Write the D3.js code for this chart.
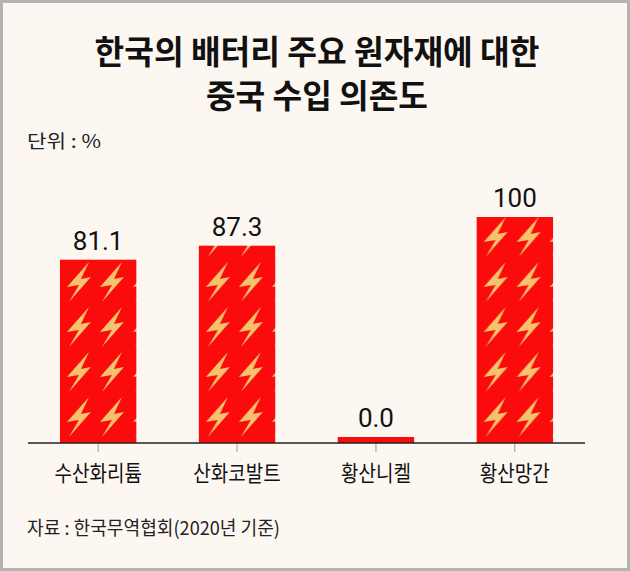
<!DOCTYPE html>
<html><head><meta charset="utf-8">
<script src="https://cdn.jsdelivr.net/npm/d3@7/dist/d3.min.js"></script>
<style>html,body{margin:0;padding:0;background:#fdf7f2;}svg{display:block;}</style>
</head><body>
<svg id="chart" width="630" height="571"></svg>
<script>
const titleLines = ["한국의 배터리 주요 원자재에 대한", "중국 수입 의존도"];
const unitLabel = "단위 : %";
const sourceLabel = "자료 : 한국무역협회(2020년 기준)";
const categories = ["수산화리튬", "산화코발트", "황산니켈", "황산망간"];
const values = [81.1, 87.3, 0.0, 100];
const valueLabels = ["81.1", "87.3", "0.0", "100"];

const W = 630, H = 571;
const svg = d3.select("#chart");
const BG = "#fdf7f2", RED = "#fb0b0b", BOLT = "#f6c36c";

svg.append("rect").attr("x",1.5).attr("y",1.5).attr("width",W-3).attr("height",H-3)
  .attr("fill",BG).attr("stroke","#b3b3b3").attr("stroke-width",3);

// title
const tl = [{t:titleLines[0], y:64, len:445}, {t:titleLines[1], y:108, len:222}];
svg.selectAll("text.title").data(tl).join("text").attr("class","title")
  .attr("x",317).attr("y",d=>d.y).attr("text-anchor","middle")
  .attr("font-family","'Noto Sans CJK KR', sans-serif").attr("font-weight",700)
  .attr("font-size",33).attr("fill","#111")
  .attr("textLength",d=>d.len).attr("lengthAdjust","spacingAndGlyphs")
  .text(d=>d.t);

svg.append("text").attr("x",27).attr("y",148)
  .attr("font-family","'Noto Sans CJK KR', sans-serif").attr("font-size",18).attr("fill","#222")
  .attr("textLength",74).attr("lengthAdjust","spacingAndGlyphs").text(unitLabel);

svg.append("text").attr("x",27).attr("y",535)
  .attr("font-family","'Noto Sans CJK KR', sans-serif").attr("font-size",19).attr("fill","#222")
  .attr("textLength",253).attr("lengthAdjust","spacingAndGlyphs").text(sourceLabel);

// scales
const x = d3.scaleBand().domain(categories).range([28, 585]).paddingInner(0.45).paddingOuter(0.23);
const y = d3.scaleLinear().domain([0, 100]).range([443, 217]);

// patterns
const defs = svg.append("defs");
const tileW = 33, tileH = 45;
const boltPts = [[27,2],[5,27],[17,25],[7,42],[29,17],[19,19]];
categories.forEach((c,i) => {
  const p = defs.append("pattern").attr("id","pat"+i).attr("patternUnits","userSpaceOnUse")
    .attr("width",tileW).attr("height",tileH)
    .attr("x", x(c) + 2).attr("y", 215);
  p.append("rect").attr("width",tileW).attr("height",tileH).attr("fill",RED);
  p.append("polygon").attr("points", boltPts.map(q=>q.join(",")).join(" "))
    .attr("fill",BOLT);
});

const minH = 6;
const data = categories.map((c,i)=>({c, v:values[i], lab:valueLabels[i], i}));
const barTop = d => Math.min(y(d.v), y(0) - minH);

svg.append("g").selectAll("rect").data(data).join("rect")
  .attr("x", d=>x(d.c)).attr("width", x.bandwidth())
  .attr("y", barTop).attr("height", d => y(0) - barTop(d))
  .attr("fill", d=>`url(#pat${d.i})`);

svg.append("g").selectAll("text").data(data).join("text")
  .attr("x", d=>x(d.c)+x.bandwidth()/2).attr("y", d=>barTop(d)-10)
  .attr("text-anchor","middle").attr("font-family","Roboto, sans-serif")
  .attr("font-size",26).attr("fill","#111").text(d=>d.lab);

// axis
const ax = svg.append("g").attr("transform",`translate(0,${y(0)})`)
  .call(d3.axisBottom(x).tickSize(9).tickSizeOuter(0).tickPadding(13));
ax.select(".domain").remove();
ax.append("line").attr("x1",28).attr("x2",585).attr("stroke","#222").attr("stroke-width",1.5);
ax.selectAll(".tick line").attr("stroke","#999").attr("stroke-width",1);
ax.selectAll(".tick text").attr("font-family","'Noto Sans CJK KR', sans-serif")
  .attr("font-size",22).attr("fill","#111")
  .attr("textLength", d=>d.length*17.5).attr("lengthAdjust","spacingAndGlyphs");
</script>
</body></html>
